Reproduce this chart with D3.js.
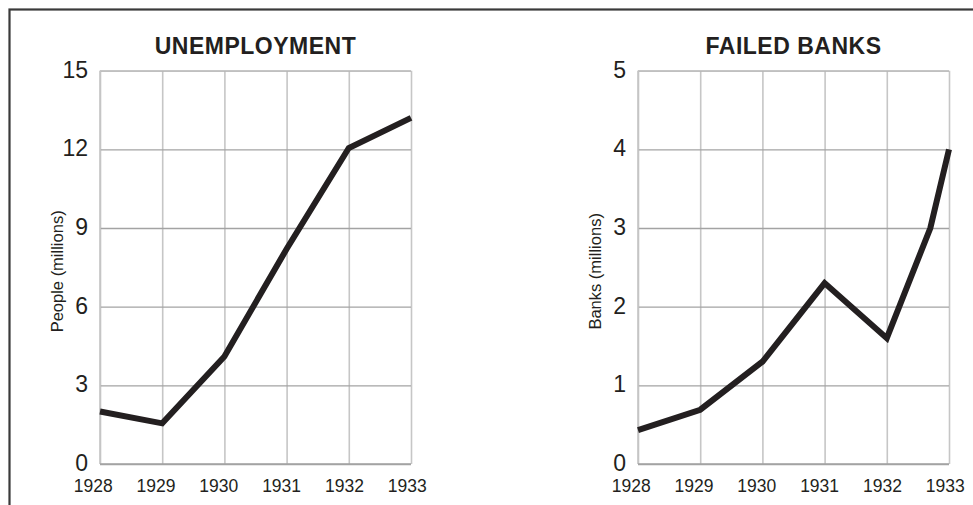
<!DOCTYPE html>
<html>
<head>
<meta charset="utf-8">
<script src="https://cdn.jsdelivr.net/npm/d3@7"></script>
<style>
  html, body { margin: 0; padding: 0; background: #fff; }
  svg { display: block; font-family: "Liberation Sans", Arial, Helvetica, sans-serif; }
</style>
</head>
<body>
<svg id="chart" width="973" height="505"></svg>
<script>
// Years shown on the horizontal axis of both panels
const years = [1928, 1929, 1930, 1931, 1932, 1933];

// Unemployment, people in millions
const unemploymentYears = [1928, 1929, 1930, 1931, 1932, 1933];
const unemploymentValues = [2.0, 1.55, 4.1, 8.2, 12.05, 13.2];
const unemploymentTicks = [0, 3, 6, 9, 12, 15];

// Failed banks (as labelled, millions)
const bankYears = [1928, 1929, 1930, 1931, 1932, 1932.7, 1933];
const bankValues = [0.43, 0.69, 1.3, 2.3, 1.6, 3.0, 4.0];
const bankTicks = [0, 1, 2, 3, 4, 5];

const panels = [
  { title: "UNEMPLOYMENT", yLabel: "People (millions)", xs: unemploymentYears, ys: unemploymentValues,
    ticks: unemploymentTicks, max: 15, left: 100, right: 411, yTitleX: 63 },
  { title: "FAILED BANKS", yLabel: "Banks (millions)", xs: bankYears, ys: bankValues,
    ticks: bankTicks, max: 5, left: 638, right: 949, yTitleX: 601 }
];

const plotTop = 70.7, plotBottom = 464;
const ink = "#231f20";
const svg = d3.select("#chart");

// Outer frame, running off the right and bottom edges
svg.append("rect")
  .attr("x", 9.5).attr("y", 9.5)
  .attr("width", 1100).attr("height", 1100)
  .attr("fill", "none").attr("stroke", "#3a3a3a").attr("stroke-width", 2.2);

panels.forEach(p => {
  const g = svg.append("g");
  const x = d3.scaleLinear().domain([1928, 1933]).range([p.left, p.right]);
  // tick labels sit a little left of their grid lines
  const xl = d3.scaleLinear().domain([1928, 1933]).range([p.left - 7.3, p.right - 4.3]);
  const y = d3.scaleLinear().domain([0, p.max]).range([plotBottom, plotTop]);
  const w = p.right - p.left, h = plotBottom - plotTop;

  // vertical grid + year labels
  const xAxis = g.append("g")
    .attr("transform", `translate(0,${plotBottom})`)
    .call(d3.axisBottom(x).tickValues(years).tickFormat(d3.format("d"))
      .tickSizeInner(-h).tickSizeOuter(0).tickPadding(16));
  xAxis.select(".domain").remove();
  xAxis.selectAll(".tick line").attr("stroke", "#c6c6c6").attr("stroke-width", 1.6);
  xAxis.selectAll(".tick text")
    .attr("fill", ink).attr("font-size", 17.5)
    .attr("dx", d => xl(d) - x(d));

  // horizontal grid + value labels
  const yAxis = g.append("g")
    .attr("transform", `translate(${p.left},0)`)
    .call(d3.axisLeft(y).tickValues(p.ticks).tickFormat(d3.format("d"))
      .tickSizeInner(-w).tickSizeOuter(0).tickPadding(12));
  yAxis.select(".domain").remove();
  yAxis.selectAll(".tick line").attr("stroke", "#a3a3a3").attr("stroke-width", 1.3);
  yAxis.selectAll(".tick text")
    .attr("fill", ink).attr("font-size", 23).attr("dy", "0.28em");

  // panel edges
  g.append("line").attr("x1", p.left).attr("x2", p.left).attr("y1", plotTop).attr("y2", plotBottom)
    .attr("stroke", "#c6c6c6").attr("stroke-width", 1.6);
  g.append("line").attr("x1", p.left).attr("x2", p.right).attr("y1", plotTop).attr("y2", plotTop)
    .attr("stroke", "#c6c6c6").attr("stroke-width", 1.6);
  g.append("line").attr("x1", p.left).attr("x2", p.right).attr("y1", plotBottom).attr("y2", plotBottom)
    .attr("stroke", "#a3a3a3").attr("stroke-width", 1.4);

  // data line
  const pts = p.xs.map((d, i) => [d, p.ys[i]]);
  g.append("path")
    .datum(pts)
    .attr("fill", "none").attr("stroke", ink).attr("stroke-width", 6)
    .attr("stroke-linejoin", "miter")
    .attr("d", d3.line().x(d => x(d[0])).y(d => y(d[1])));

  // titles
  g.append("text")
    .attr("x", (p.left + p.right) / 2).attr("y", 54)
    .attr("text-anchor", "middle").attr("font-weight", "bold")
    .attr("font-size", 23).attr("letter-spacing", 0.5).attr("fill", ink)
    .text(p.title);

  g.append("text")
    .attr("transform", `translate(${p.yTitleX},${(plotTop + plotBottom) / 2 + 4}) rotate(-90)`)
    .attr("text-anchor", "middle").attr("font-size", 16.5).attr("fill", ink)
    .text(p.yLabel);
});
</script>
</body>
</html>
